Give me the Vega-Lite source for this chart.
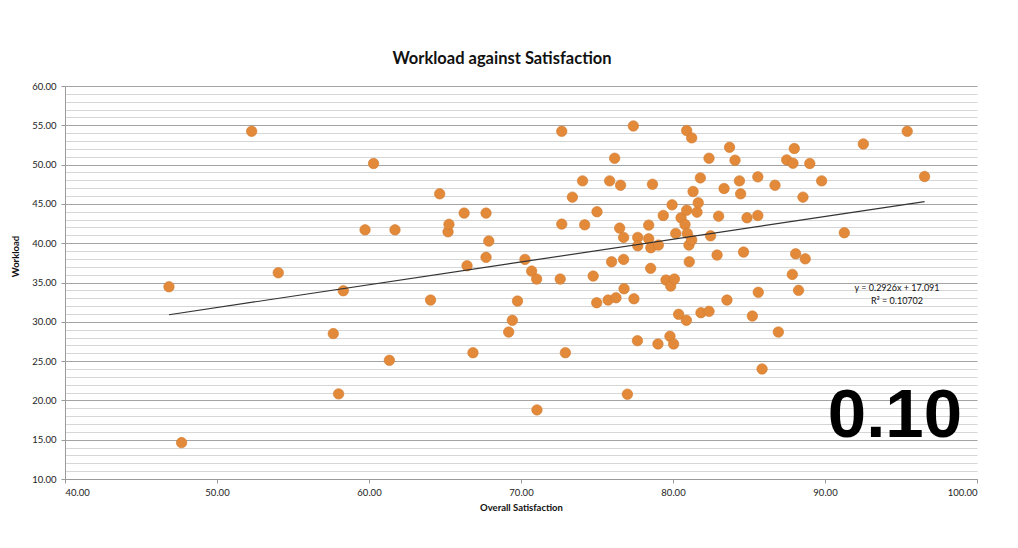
{
  "$schema": "https://vega.github.io/schema/vega-lite/v6.json",
  "width": 912,
  "height": 393,
  "autosize": {"type": "none"},
  "padding": {"left": 65, "top": 86, "right": 41, "bottom": 69},
  "background": "white",
  "config": {
    "view": {"stroke": null},
    "font": "Lato",
    "axis": {"labelFont": "Lato", "titleFont": "Lato", "labelColor": "#222", "titleColor": "#111"}
  },
  "title": {
    "text": "Workload against Satisfaction",
    "font": "Lato",
    "fontSize": 16.5,
    "fontWeight": "bold",
    "color": "#111",
    "anchor": "middle",
    "dx": -19,
    "offset": 14
  },
  "datasets": {
    "survey": [
      {"Satisfaction": 46.84, "Workload": 34.46},
      {"Satisfaction": 47.67, "Workload": 14.63},
      {"Satisfaction": 52.28, "Workload": 54.24},
      {"Satisfaction": 54.03, "Workload": 36.24},
      {"Satisfaction": 57.65, "Workload": 28.5},
      {"Satisfaction": 58.0, "Workload": 20.83},
      {"Satisfaction": 58.31, "Workload": 33.95},
      {"Satisfaction": 59.74, "Workload": 41.7},
      {"Satisfaction": 60.3, "Workload": 50.14},
      {"Satisfaction": 61.34, "Workload": 25.1},
      {"Satisfaction": 61.71, "Workload": 41.7},
      {"Satisfaction": 64.05, "Workload": 32.77},
      {"Satisfaction": 64.65, "Workload": 46.28},
      {"Satisfaction": 65.2, "Workload": 41.45},
      {"Satisfaction": 65.26, "Workload": 42.4},
      {"Satisfaction": 66.26, "Workload": 43.83},
      {"Satisfaction": 66.45, "Workload": 37.13},
      {"Satisfaction": 66.84, "Workload": 26.07},
      {"Satisfaction": 67.7, "Workload": 43.83},
      {"Satisfaction": 67.7, "Workload": 38.2},
      {"Satisfaction": 67.88, "Workload": 40.27},
      {"Satisfaction": 69.19, "Workload": 28.7},
      {"Satisfaction": 69.43, "Workload": 30.19},
      {"Satisfaction": 69.77, "Workload": 32.64},
      {"Satisfaction": 70.26, "Workload": 37.94},
      {"Satisfaction": 70.7, "Workload": 36.45},
      {"Satisfaction": 71.03, "Workload": 35.44},
      {"Satisfaction": 71.05, "Workload": 18.79},
      {"Satisfaction": 72.58, "Workload": 35.44},
      {"Satisfaction": 72.68, "Workload": 54.24},
      {"Satisfaction": 72.68, "Workload": 42.43},
      {"Satisfaction": 72.92, "Workload": 26.07},
      {"Satisfaction": 73.38, "Workload": 45.86},
      {"Satisfaction": 74.05, "Workload": 47.93},
      {"Satisfaction": 74.19, "Workload": 42.34},
      {"Satisfaction": 74.75, "Workload": 35.82},
      {"Satisfaction": 74.98, "Workload": 32.43},
      {"Satisfaction": 75.0, "Workload": 44.0},
      {"Satisfaction": 75.73, "Workload": 32.77},
      {"Satisfaction": 75.83, "Workload": 47.93},
      {"Satisfaction": 75.96, "Workload": 37.64},
      {"Satisfaction": 76.16, "Workload": 50.81},
      {"Satisfaction": 76.25, "Workload": 33.06},
      {"Satisfaction": 76.49, "Workload": 41.92},
      {"Satisfaction": 76.55, "Workload": 47.38},
      {"Satisfaction": 76.75, "Workload": 40.74},
      {"Satisfaction": 76.75, "Workload": 37.94},
      {"Satisfaction": 76.78, "Workload": 34.21},
      {"Satisfaction": 77.0, "Workload": 20.79},
      {"Satisfaction": 77.39, "Workload": 54.92},
      {"Satisfaction": 77.43, "Workload": 32.93},
      {"Satisfaction": 77.66, "Workload": 27.6},
      {"Satisfaction": 77.68, "Workload": 40.74},
      {"Satisfaction": 77.68, "Workload": 39.67},
      {"Satisfaction": 78.4, "Workload": 42.3},
      {"Satisfaction": 78.4, "Workload": 40.56},
      {"Satisfaction": 78.53, "Workload": 36.8},
      {"Satisfaction": 78.54, "Workload": 39.42},
      {"Satisfaction": 78.65, "Workload": 47.5},
      {"Satisfaction": 79.01, "Workload": 27.18},
      {"Satisfaction": 79.04, "Workload": 39.76},
      {"Satisfaction": 79.36, "Workload": 43.53},
      {"Satisfaction": 79.54, "Workload": 35.31},
      {"Satisfaction": 79.8, "Workload": 28.16},
      {"Satisfaction": 79.85, "Workload": 34.55},
      {"Satisfaction": 79.94, "Workload": 44.88},
      {"Satisfaction": 80.04, "Workload": 27.18},
      {"Satisfaction": 80.09, "Workload": 35.44},
      {"Satisfaction": 80.18, "Workload": 41.25},
      {"Satisfaction": 80.37, "Workload": 30.95},
      {"Satisfaction": 80.53, "Workload": 43.23},
      {"Satisfaction": 80.79, "Workload": 42.38},
      {"Satisfaction": 80.88, "Workload": 30.19},
      {"Satisfaction": 80.9, "Workload": 54.33},
      {"Satisfaction": 80.9, "Workload": 44.2},
      {"Satisfaction": 80.94, "Workload": 41.25},
      {"Satisfaction": 81.05, "Workload": 39.76},
      {"Satisfaction": 81.07, "Workload": 37.64},
      {"Satisfaction": 81.23, "Workload": 53.4},
      {"Satisfaction": 81.23, "Workload": 40.4},
      {"Satisfaction": 81.32, "Workload": 46.58},
      {"Satisfaction": 81.58, "Workload": 43.95},
      {"Satisfaction": 81.66, "Workload": 45.14},
      {"Satisfaction": 81.8, "Workload": 48.31},
      {"Satisfaction": 81.84, "Workload": 31.16},
      {"Satisfaction": 82.37, "Workload": 50.81},
      {"Satisfaction": 82.37, "Workload": 31.33},
      {"Satisfaction": 82.47, "Workload": 40.94},
      {"Satisfaction": 82.9, "Workload": 38.49},
      {"Satisfaction": 83.0, "Workload": 43.44},
      {"Satisfaction": 83.36, "Workload": 46.96},
      {"Satisfaction": 83.55, "Workload": 32.77},
      {"Satisfaction": 83.72, "Workload": 52.2},
      {"Satisfaction": 84.08, "Workload": 50.56},
      {"Satisfaction": 84.37, "Workload": 47.93},
      {"Satisfaction": 84.45, "Workload": 46.28},
      {"Satisfaction": 84.64, "Workload": 38.87},
      {"Satisfaction": 84.87, "Workload": 43.23},
      {"Satisfaction": 85.22, "Workload": 30.74},
      {"Satisfaction": 85.58, "Workload": 48.44},
      {"Satisfaction": 85.58, "Workload": 43.53},
      {"Satisfaction": 85.61, "Workload": 33.75},
      {"Satisfaction": 85.86, "Workload": 24.0},
      {"Satisfaction": 86.71, "Workload": 47.38},
      {"Satisfaction": 86.93, "Workload": 28.7},
      {"Satisfaction": 87.48, "Workload": 50.6},
      {"Satisfaction": 87.85, "Workload": 36.03},
      {"Satisfaction": 87.89, "Workload": 50.18},
      {"Satisfaction": 87.98, "Workload": 52.05},
      {"Satisfaction": 88.07, "Workload": 38.65},
      {"Satisfaction": 88.26, "Workload": 34.0},
      {"Satisfaction": 88.55, "Workload": 45.86},
      {"Satisfaction": 88.7, "Workload": 38.01},
      {"Satisfaction": 89.0, "Workload": 50.14},
      {"Satisfaction": 89.78, "Workload": 47.93},
      {"Satisfaction": 91.27, "Workload": 41.33},
      {"Satisfaction": 92.52, "Workload": 52.63},
      {"Satisfaction": 95.41, "Workload": 54.24},
      {"Satisfaction": 96.55, "Workload": 48.49}
    ],
    "notes": [
      {"label": "y = 0.2926x + 17.091", "kind": "eq"},
      {"label": "R² = 0.10702", "kind": "r2"},
      {"label": "0.10", "kind": "big"}
    ]
  },
  "layer": [
    {
      "data": {"name": "survey"},
      "mark": {"type": "point", "filled": true, "shape": "circle", "size": 110, "color": "#E2893A", "opacity": 1, "stroke": "#D27A2E", "strokeWidth": 0.6},
      "encoding": {
        "x": {
          "field": "Satisfaction", "type": "quantitative", "title": "Overall Satisfaction",
          "scale": {"domain": [40, 100], "nice": false, "zero": false},
          "axis": {"values": [40, 50, 60, 70, 80, 90, 100], "format": ".2f", "grid": false, "labelFontSize": 9.5, "labelPadding": 4, "tickSize": 4, "tickColor": "#9a9a9a", "domainColor": "#9a9a9a", "titleFontSize": 9.5, "titleFontWeight": "bold", "titlePadding": 6}
        },
        "y": {
          "field": "Workload", "type": "quantitative", "title": "Workload",
          "scale": {"domain": [10, 60], "nice": false, "zero": false},
          "axis": {"values": [10,11,12,13,14,15,16,17,18,19,20,21,22,23,24,25,26,27,28,29,30,31,32,33,34,35,36,37,38,39,40,41,42,43,44,45,46,47,48,49,50,51,52,53,54,55,56,57,58,59,60], "labelExpr": "datum.value % 5 === 0 ? format(datum.value, '.2f') : ''", "labelOverlap": false, "labelFontSize": 9.5, "labelPadding": 5, "tickSize": 4, "tickColor": "#9a9a9a", "tickOpacity": {"condition": {"test": "datum.value % 5 === 0", "value": 1}, "value": 0}, "domainColor": "#9a9a9a", "grid": true, "gridColor": {"condition": {"test": "datum.value % 5 === 0", "value": "#a3a3a3"}, "value": "#d6d6d6"}, "gridWidth": 1, "titleFontSize": 9.5, "titleFontWeight": "bold", "titleX": -45, "titleY": 170}
        }
      }
    },
    {
      "data": {"name": "survey"},
      "transform": [{"regression": "Workload", "on": "Satisfaction", "extent": [46.84, 96.55]}],
      "mark": {"type": "line", "color": "#333333", "strokeWidth": 1.2},
      "encoding": {
        "x": {
          "field": "Satisfaction", "type": "quantitative", "title": "Overall Satisfaction",
          "scale": {"domain": [40, 100], "nice": false, "zero": false},
          "axis": {"values": [40, 50, 60, 70, 80, 90, 100], "format": ".2f", "grid": false, "labelFontSize": 9.5, "labelPadding": 4, "tickSize": 4, "tickColor": "#9a9a9a", "domainColor": "#9a9a9a", "titleFontSize": 9.5, "titleFontWeight": "bold", "titlePadding": 6}
        },
        "y": {
          "field": "Workload", "type": "quantitative", "title": "Workload",
          "scale": {"domain": [10, 60], "nice": false, "zero": false},
          "axis": {"values": [10,11,12,13,14,15,16,17,18,19,20,21,22,23,24,25,26,27,28,29,30,31,32,33,34,35,36,37,38,39,40,41,42,43,44,45,46,47,48,49,50,51,52,53,54,55,56,57,58,59,60], "labelExpr": "datum.value % 5 === 0 ? format(datum.value, '.2f') : ''", "labelOverlap": false, "labelFontSize": 9.5, "labelPadding": 5, "tickSize": 4, "tickColor": "#9a9a9a", "tickOpacity": {"condition": {"test": "datum.value % 5 === 0", "value": 1}, "value": 0}, "domainColor": "#9a9a9a", "grid": true, "gridColor": {"condition": {"test": "datum.value % 5 === 0", "value": "#a3a3a3"}, "value": "#d6d6d6"}, "gridWidth": 1, "titleFontSize": 9.5, "titleFontWeight": "bold", "titleX": -45, "titleY": 170}
        }
      }
    },
    {
      "data": {"name": "notes"},
      "transform": [{"filter": "datum.kind === 'eq'"}],
      "mark": {"type": "text", "font": "Lato", "fontSize": 9, "color": "#111", "align": "center", "baseline": "middle"},
      "encoding": {
        "x": {
          "datum": 94.74, "type": "quantitative", "title": "Overall Satisfaction",
          "scale": {"domain": [40, 100], "nice": false, "zero": false},
          "axis": {"values": [40, 50, 60, 70, 80, 90, 100], "format": ".2f", "grid": false, "labelFontSize": 9.5, "labelPadding": 4, "tickSize": 4, "tickColor": "#9a9a9a", "domainColor": "#9a9a9a", "titleFontSize": 9.5, "titleFontWeight": "bold", "titlePadding": 6}
        },
        "y": {
          "datum": 34.29, "type": "quantitative", "title": "Workload",
          "scale": {"domain": [10, 60], "nice": false, "zero": false},
          "axis": {"values": [10,11,12,13,14,15,16,17,18,19,20,21,22,23,24,25,26,27,28,29,30,31,32,33,34,35,36,37,38,39,40,41,42,43,44,45,46,47,48,49,50,51,52,53,54,55,56,57,58,59,60], "labelExpr": "datum.value % 5 === 0 ? format(datum.value, '.2f') : ''", "labelOverlap": false, "labelFontSize": 9.5, "labelPadding": 5, "tickSize": 4, "tickColor": "#9a9a9a", "tickOpacity": {"condition": {"test": "datum.value % 5 === 0", "value": 1}, "value": 0}, "domainColor": "#9a9a9a", "grid": true, "gridColor": {"condition": {"test": "datum.value % 5 === 0", "value": "#a3a3a3"}, "value": "#d6d6d6"}, "gridWidth": 1, "titleFontSize": 9.5, "titleFontWeight": "bold", "titleX": -45, "titleY": 170}
        },
        "text": {"field": "label"}
      }
    },
    {
      "data": {"name": "notes"},
      "transform": [{"filter": "datum.kind === 'r2'"}],
      "mark": {"type": "text", "font": "Lato", "fontSize": 9, "color": "#111", "align": "center", "baseline": "middle"},
      "encoding": {
        "x": {
          "datum": 94.74, "type": "quantitative", "title": "Overall Satisfaction",
          "scale": {"domain": [40, 100], "nice": false, "zero": false},
          "axis": {"values": [40, 50, 60, 70, 80, 90, 100], "format": ".2f", "grid": false, "labelFontSize": 9.5, "labelPadding": 4, "tickSize": 4, "tickColor": "#9a9a9a", "domainColor": "#9a9a9a", "titleFontSize": 9.5, "titleFontWeight": "bold", "titlePadding": 6}
        },
        "y": {
          "datum": 32.64, "type": "quantitative", "title": "Workload",
          "scale": {"domain": [10, 60], "nice": false, "zero": false},
          "axis": {"values": [10,11,12,13,14,15,16,17,18,19,20,21,22,23,24,25,26,27,28,29,30,31,32,33,34,35,36,37,38,39,40,41,42,43,44,45,46,47,48,49,50,51,52,53,54,55,56,57,58,59,60], "labelExpr": "datum.value % 5 === 0 ? format(datum.value, '.2f') : ''", "labelOverlap": false, "labelFontSize": 9.5, "labelPadding": 5, "tickSize": 4, "tickColor": "#9a9a9a", "tickOpacity": {"condition": {"test": "datum.value % 5 === 0", "value": 1}, "value": 0}, "domainColor": "#9a9a9a", "grid": true, "gridColor": {"condition": {"test": "datum.value % 5 === 0", "value": "#a3a3a3"}, "value": "#d6d6d6"}, "gridWidth": 1, "titleFontSize": 9.5, "titleFontWeight": "bold", "titleX": -45, "titleY": 170}
        },
        "text": {"field": "label"}
      }
    },
    {
      "data": {"name": "notes"},
      "transform": [{"filter": "datum.kind === 'big'"}],
      "mark": {"type": "text", "font": "Liberation Sans", "fontSize": 69, "fontWeight": "bold", "color": "#000", "align": "center", "baseline": "alphabetic"},
      "encoding": {
        "x": {
          "datum": 94.6, "type": "quantitative", "title": "Overall Satisfaction",
          "scale": {"domain": [40, 100], "nice": false, "zero": false},
          "axis": {"values": [40, 50, 60, 70, 80, 90, 100], "format": ".2f", "grid": false, "labelFontSize": 9.5, "labelPadding": 4, "tickSize": 4, "tickColor": "#9a9a9a", "domainColor": "#9a9a9a", "titleFontSize": 9.5, "titleFontWeight": "bold", "titlePadding": 6}
        },
        "y": {
          "datum": 15.36, "type": "quantitative", "title": "Workload",
          "scale": {"domain": [10, 60], "nice": false, "zero": false},
          "axis": {"values": [10,11,12,13,14,15,16,17,18,19,20,21,22,23,24,25,26,27,28,29,30,31,32,33,34,35,36,37,38,39,40,41,42,43,44,45,46,47,48,49,50,51,52,53,54,55,56,57,58,59,60], "labelExpr": "datum.value % 5 === 0 ? format(datum.value, '.2f') : ''", "labelOverlap": false, "labelFontSize": 9.5, "labelPadding": 5, "tickSize": 4, "tickColor": "#9a9a9a", "tickOpacity": {"condition": {"test": "datum.value % 5 === 0", "value": 1}, "value": 0}, "domainColor": "#9a9a9a", "grid": true, "gridColor": {"condition": {"test": "datum.value % 5 === 0", "value": "#a3a3a3"}, "value": "#d6d6d6"}, "gridWidth": 1, "titleFontSize": 9.5, "titleFontWeight": "bold", "titleX": -45, "titleY": 170}
        },
        "text": {"field": "label"}
      }
    }
  ]
}
